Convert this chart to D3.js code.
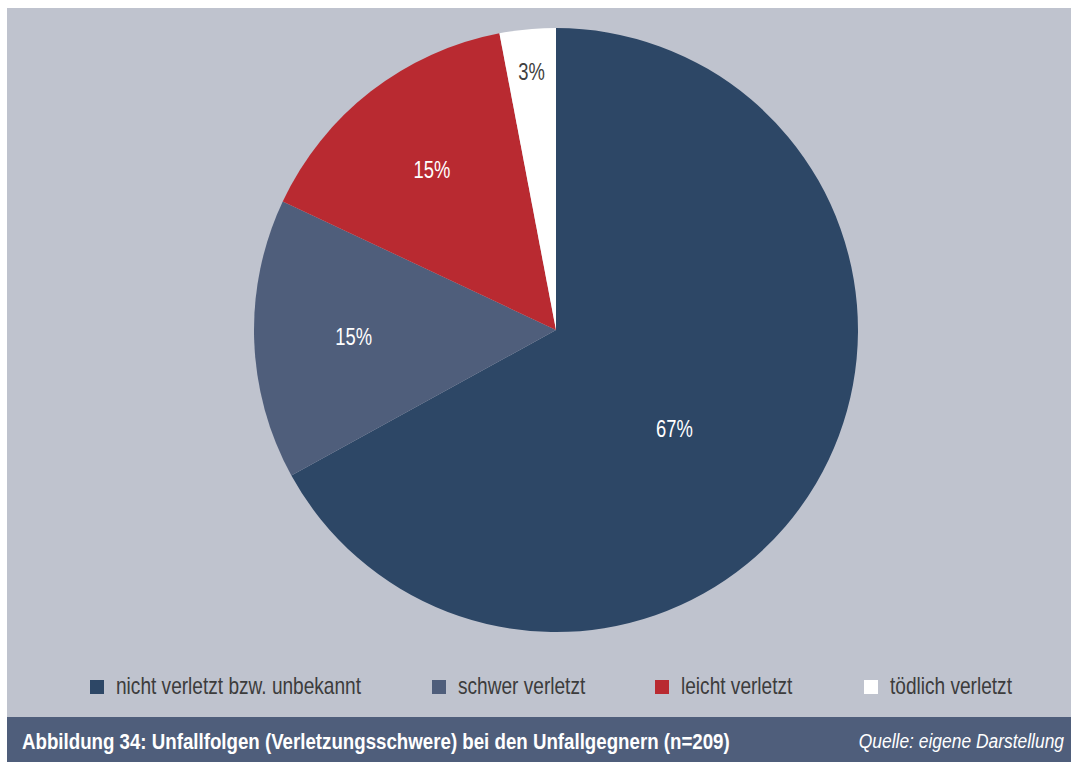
<!DOCTYPE html>
<html>
<head>
<meta charset="utf-8">
<script src="https://cdn.jsdelivr.net/npm/d3@7"></script>
<style>
  html, body { margin: 0; padding: 0; background: #ffffff; }
  svg { display: block; font-family: "Liberation Sans", Arial, sans-serif; }
</style>
</head>
<body>
<svg id="chart" width="1071" height="762"></svg>
<script>
// Unfallfolgen bei den Unfallgegnern, Anteile in Prozent
const categories = ["nicht verletzt bzw. unbekannt", "schwer verletzt", "leicht verletzt", "tödlich verletzt"];
const shares = [67, 15, 15, 3];
const colors = ["#2d4766", "#4f5e7b", "#b92a31", "#ffffff"];
const labelColors = ["#ffffff", "#ffffff", "#ffffff", "#404040"];
const titleText = "Abbildung 34: Unfallfolgen (Verletzungsschwere) bei den Unfallgegnern (n=209)";
const sourceText = "Quelle: eigene Darstellung";

const svg = d3.select("#chart");
const W = 1071, H = 762;

// text helper: a horizontally squeezed (condensed-looking) label anchored at (x, y)
function narrowText(parent, x, y, str, opts) {
  const grp = parent.append("g").attr("transform", `translate(${x},${y}) scale(${opts.squeeze || 0.8},1)`);
  const t = grp.append("text")
    .attr("x", 0).attr("y", 0)
    .attr("dominant-baseline", "central")
    .attr("text-anchor", opts.anchor || "start")
    .attr("font-size", opts.size)
    .attr("fill", opts.fill)
    .text(str);
  if (opts.weight) t.attr("font-weight", opts.weight);
  if (opts.style) t.attr("font-style", opts.style);
  return t;
}

// panel background
svg.append("rect").attr("x", 7).attr("y", 8).attr("width", W - 7).attr("height", H - 8).attr("fill", "#bfc3ce");

// pie
const cx = 556, cy = 330, R = 302;
const data = categories.map((c, i) => ({ name: c, value: shares[i], color: colors[i], label: labelColors[i] }));
const pie = d3.pie().value(d => d.value).sort(null).startAngle(0).endAngle(2 * Math.PI);
const arcs = pie(data);
const arc = d3.arc().innerRadius(0).outerRadius(R);

const g = svg.append("g").attr("transform", `translate(${cx},${cy})`);
g.selectAll("path.slice").data(arcs).join("path")
  .attr("class", "slice")
  .attr("d", arc)
  .attr("fill", d => d.data.color);

// value labels: small slices sit nearer the rim, the large one a bit further round
const labelPos = d => {
  const share = d.data.value;
  const f = share < 5 ? 0.86 : (share > 50 ? 0.51 : 0.67);
  const a = (d.startAngle + d.endAngle) / 2 + (share > 50 ? 0.16 : 0);
  return [Math.sin(a) * R * f, -Math.cos(a) * R * f];
};
arcs.forEach(d => {
  const [x, y] = labelPos(d);
  narrowText(g, x, y, d.data.value + "%", { size: 23, fill: d.data.label, anchor: "middle", squeeze: 0.8 });
});

// legend
const legendX = [90, 432, 655, 864];
const legend = svg.append("g");
data.forEach((d, i) => {
  legend.append("rect").attr("x", legendX[i]).attr("y", 680).attr("width", 14).attr("height", 14).attr("fill", d.color);
  narrowText(legend, legendX[i] + 26, 686, d.name, { size: 23, fill: "#3c3c3c", squeeze: 0.83 });
});

// caption bar
svg.append("rect").attr("x", 7).attr("y", 717).attr("width", W - 7).attr("height", H - 717).attr("fill", "#4f5e7b");
narrowText(svg, 22, 741, titleText, { size: 22, fill: "#ffffff", weight: "bold", squeeze: 0.85 });
narrowText(svg, 1064, 741, sourceText, { size: 21, fill: "#ffffff", style: "italic", anchor: "end", squeeze: 0.83 });
</script>
</body>
</html>
